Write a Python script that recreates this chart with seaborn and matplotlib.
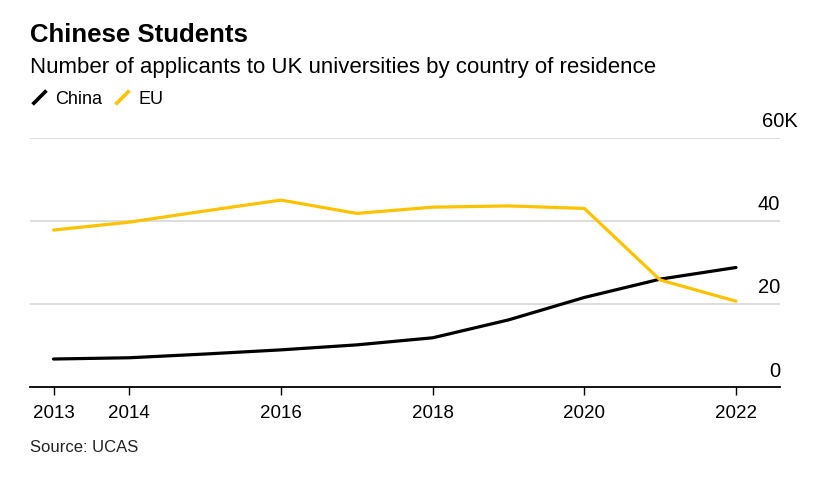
import pandas as pd
import matplotlib
matplotlib.use("Agg")
import matplotlib.pyplot as plt
from matplotlib.lines import Line2D
from matplotlib.path import Path
import matplotlib.transforms as mtransforms
import seaborn as sns

# ─── Data (thousands of applicants) ──────────────────────────────────────────
years = [2013, 2014, 2015, 2016, 2017, 2018, 2019, 2020, 2021, 2022]
china = [6.8, 7.1, 8.0, 9.0, 10.2, 11.9, 16.2, 21.6, 26.0, 28.8]
eu = [37.8, 39.7, 42.4, 45.0, 41.8, 43.3, 43.6, 43.0, 25.8, 20.7]
xticks = [2013, 2014, 2016, 2018, 2020, 2022]
yticks = [0, 20, 40, 60]
ylabels = ["0", "20", "40", "60K"]

BLACK = "#000000"
YELLOW = "#FFC200"
GRID = "#DDDDDD"

sns.set_style("white")
plt.rcParams["font.family"] = ["Liberation Sans", "DejaVu Sans"]
plt.rcParams["text.color"] = BLACK
plt.rcParams["xtick.color"] = BLACK

df = pd.DataFrame({
    "year": years * 2,
    "value": china + eu,
    "series": ["China"] * len(years) + ["EU"] * len(years),
})

fig = plt.figure(figsize=(8.13, 4.8), dpi=100)
ax = fig.add_axes([30 / 813, 1 - 387.3 / 480, 750 / 813, (387.3 - 137.7) / 480])

sns.lineplot(data=df, x="year", y="value", hue="series",
             palette={"China": BLACK, "EU": YELLOW}, linewidth=2.3,
             legend=False, ax=ax, zorder=3)

ax.set_xlim(2013 - 23.5 / 75.8, 2022 + 44 / 75.8)
ax.set_ylim(0, 60)
ax.set_xlabel("")
ax.set_ylabel("")

# gridlines
for v in yticks[1:]:
    ax.axhline(v, color=GRID, linewidth=1.4, zorder=1)

for s in ["top", "right", "left"]:
    ax.spines[s].set_visible(False)
ax.spines["bottom"].set_color(BLACK)
ax.spines["bottom"].set_linewidth(1.3)

ax.set_xticks(xticks)
ax.set_xticklabels([str(x) for x in xticks], fontsize=13.5)
ax.tick_params(axis="x", direction="out", length=6, width=1.0,
               color=BLACK, labelcolor=BLACK, pad=7, bottom=True)
ax.set_yticks([])

# y labels sit above the gridlines at the right edge
trans = mtransforms.blended_transform_factory(ax.transAxes, ax.transData)
for v, lab in zip(yticks, ylabels):
    if lab.endswith("K"):
        ax.text(0.9755, v + 1.6, lab, transform=trans, ha="left", va="bottom",
                fontsize=14.5, color=BLACK)
    else:
        ax.text(1.0, v + 1.6, lab, transform=trans, ha="right", va="bottom",
                fontsize=14.5, color=BLACK)

# titles
fig.text(30 / 813, 1 - 35 / 480, "Chinese Students", fontsize=18.5,
         fontweight="bold", ha="left", va="center")
fig.text(30 / 813, 1 - 68 / 480,
         "Number of applicants to UK universities by country of residence",
         fontsize=16, ha="left", va="center")

# legend with slanted line markers
slash = Path([(-1, -1), (1, 1)], [Path.MOVETO, Path.LINETO])
handles = [
    Line2D([], [], linestyle="none", marker=slash, markersize=10,
           markeredgewidth=2.6, markeredgecolor=BLACK, label="China"),
    Line2D([], [], linestyle="none", marker=slash, markersize=10,
           markeredgewidth=2.6, markeredgecolor=YELLOW, label="EU"),
]
fig.legend(handles=handles, loc="center left",
           bbox_to_anchor=(23 / 813, 1 - 99 / 480), ncol=2, frameon=False,
           fontsize=13, handlelength=1.0, handletextpad=0.4,
           columnspacing=0.6, borderaxespad=0)

fig.text(30 / 813, 1 - 447 / 480, "Source: UCAS", fontsize=12,
         color="#222222", ha="left", va="center")

plt.savefig("out.png", dpi=100)
plt.close()
